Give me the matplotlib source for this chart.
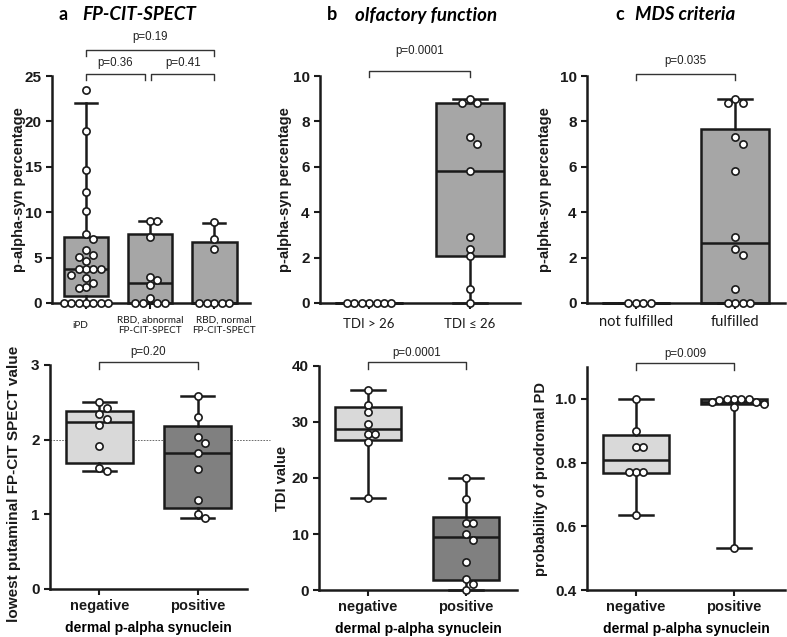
import numpy as np
import matplotlib
matplotlib.use("Agg")
import matplotlib.pyplot as plt
from matplotlib.transforms import blended_transform_factory

plt.rcParams['font.family'] = ['Liberation Sans', 'DejaVu Sans']

W, H = 787, 637
fig = plt.figure(figsize=(W / 100, H / 100), dpi=100)

# ---- data ----
# a, top: p-alpha-syn by FP-CIT-SPECT group
a_cats = ['iPD', 'RBD, abnormal\nFP-CIT-SPECT', 'RBD, normal\nFP-CIT-SPECT']
a_ipd = [23.5, 18.9, 14.6, 12.2, 10.1, 7.6, 7.0, 5.8, 5.3, 5.1, 4.6, 3.7, 3.7, 3.7, 3.7,
         3.1, 2.8, 2.2, 1.8, 1.6, 0, 0, 0, 0, 0, 0, 0]
a_rbd_abn = [9.0, 9.0, 7.3, 2.9, 2.5, 2.0, 0.5, 0, 0, 0, 0]
a_rbd_norm = [8.9, 7.0, 5.9, 0, 0, 0, 0, 0]
a_q1 = [0.8, 0, 0]
a_med = [3.7, 2.2, 0]
a_q3 = [7.3, 7.6, 6.7]
a_lo = [0, 0, 0]
a_hi = [22.0, 9.0, 8.8]

# b, top: p-alpha-syn by olfactory function
b_cats = ['TDI > 26', 'TDI ≤ 26']
b_normal = [0, 0, 0, 0, 0, 0, 0]
b_hypo = [9.0, 8.8, 8.8, 7.3, 7.0, 5.8, 2.9, 2.4, 2.05, 0.6, 0]
b_q1 = [0, 2.05]
b_med = [0, 5.8]
b_q3 = [0, 8.8]
b_lo = [0, 0]
b_hi = [0, 9.0]

# c, top: p-alpha-syn by MDS criteria
c_cats = ['not fulfilled', 'fulfilled']
c_not = [0, 0, 0, 0]
c_ful = [9.0, 8.8, 8.8, 7.3, 7.0, 5.8, 2.9, 2.4, 2.1, 0.6, 0, 0, 0, 0]
c_q1 = [0, 0]
c_med = [0, 2.65]
c_q3 = [0, 7.65]
c_lo = [0, 0]
c_hi = [0, 9.0]

# bottom row: by dermal p-alpha synuclein
syn_cats = ['negative', 'positive']
d_neg = [2.5, 2.42, 2.34, 2.28, 2.2, 1.91, 1.62, 1.58]
d_pos = [2.59, 2.31, 2.04, 1.96, 1.82, 1.61, 1.19, 1.0, 0.95]
d_q1 = [1.69, 1.09]
d_med = [2.24, 1.82]
d_q3 = [2.39, 2.18]
d_lo = [1.58, 0.95]
d_hi = [2.5, 2.59]

e_neg = [35.8, 33.0, 31.7, 29.7, 27.8, 27.8, 26.5, 16.5]
e_pos = [20, 16.3, 12, 12, 10, 8.9, 5, 2, 1.1, 0]
e_q1 = [26.8, 1.7]
e_med = [28.8, 9.5]
e_q3 = [32.7, 13.1]
e_lo = [16.5, 0]
e_hi = [35.8, 20]

f_neg = [1.0, 0.9, 0.85, 0.85, 0.77, 0.77, 0.77, 0.635]
f_pos = [1.0, 1.0, 1.0, 1.0, 0.995, 0.99, 0.99, 0.985, 0.975, 0.533]
f_q1 = [0.767, 0.984]
f_med = [0.807, 0.99]
f_q3 = [0.887, 1.0]
f_lo = [0.635, 0.533]
f_hi = [1.0, 1.0]

INK = '#1a1a1a'
MID = '#a6a6a6'
LIGHT = '#d9d9d9'
DARK = '#808080'

cal = ['Lato', 'DejaVu Sans']


def px_axes(x0, x1, y0, y1):
    return fig.add_axes([x0 / W, 1 - y1 / H, (x1 - x0) / W, (y1 - y0) / H])


def style(ax, xlim, ylim, yticks, ylabel, fmt='%g', ylfs=10.5):
    ax.set_xlim(xlim)
    ax.set_ylim(ylim)
    ax.set_yticks(yticks)
    ax.set_yticklabels([fmt % t for t in yticks], fontweight='bold', fontsize=11)
    for s in ['top', 'right']:
        ax.spines[s].set_visible(False)
    for s in ['left', 'bottom']:
        ax.spines[s].set_linewidth(1.8)
        ax.spines[s].set_color(INK)
    ax.tick_params(width=1.5, length=4, color=INK, labelcolor=INK)
    ax.set_ylabel(ylabel, fontsize=ylfs, fontweight='bold', color=INK)


def boxes(ax, q1, med, q3, lo, hi, colors, width=0.68):
    stats = [dict(q1=a, med=m, q3=b, whislo=l, whishi=h, fliers=[])
             for a, m, b, l, h in zip(q1, med, q3, lo, hi)]
    n = len(stats)
    art = ax.bxp(stats, positions=range(n), widths=width, capwidths=width * 0.5,
                 patch_artist=True, showfliers=False,
                 boxprops=dict(linewidth=1.8, edgecolor=INK),
                 medianprops=dict(linewidth=1.8, color=INK),
                 whiskerprops=dict(linewidth=1.8, color=INK),
                 capprops=dict(linewidth=1.8, color=INK), manage_ticks=False)
    for p, c in zip(art['boxes'], colors):
        p.set_facecolor(c)
    for k in ['boxes', 'medians', 'whiskers', 'caps']:
        for a in art[k]:
            a.set_clip_on(False)


def swarm(ax, x0, vals, d=7.4):
    tr = ax.transData
    pts = tr.transform(np.column_stack([np.full(len(vals), float(x0)), vals]))
    placed = []
    for px, py in pts:
        k = 0
        while True:
            off = ((k + 1) // 2) * d * (1 if k % 2 else -1)
            if all(np.hypot(px + off - qx, py - qy) >= d * 0.95 for qx, qy in placed):
                break
            k += 1
        placed.append((px + off, py))
    xy = tr.inverted().transform(np.array(placed))
    ax.plot(xy[:, 0], vals, 'o', mfc='white', mec=INK, ms=5.2, mew=1.2,
            zorder=6, clip_on=False)


def bracket(ax, x0, x1, y, h, text, ty):
    ax.plot([x0, x0, x1, x1], [y - h, y, y, y - h], color='#333333', lw=1.0, clip_on=False)
    ax.text((x0 + x1) / 2, ty, text, ha='center', va='center', fontsize=8.3,
            color='#222222', clip_on=False)


def xcats(ax, labels, fs, pad, family=None, weight='normal'):
    ax.set_xticks(range(len(labels)))
    ax.set_xticklabels(labels, fontsize=fs, fontweight=weight,
                       family=family if family else plt.rcParams['font.family'])
    ax.tick_params(axis='x', pad=pad)


# ---- top row ----
ax = px_axes(52, 250, 76, 303)
style(ax, (-0.53, 2.56), (0, 25), [0, 5, 10, 15, 20, 25], 'p-alpha-syn percentage')
boxes(ax, a_q1, a_med, a_q3, a_lo, a_hi, [MID] * 3, width=0.7)
for i, v in enumerate([a_ipd, a_rbd_abn, a_rbd_norm]):
    swarm(ax, i, v)
ax.set_xticks(range(len(a_cats)))
ax.set_xticklabels([])
tb = blended_transform_factory(ax.transData, ax.transAxes)
for x, lab in zip([-0.09, 1.0, 2.16], a_cats):
    ax.text(x, -0.098, lab, transform=tb, ha='center', va='center', fontsize=7.2,
            family=cal, color=INK, linespacing=1.25)
bracket(ax, 0, 0.92, 25.2, 0.65, 'p=0.36', 26.4)
bracket(ax, 1.02, 2.0, 25.2, 0.65, 'p=0.41', 26.4)
bracket(ax, 0, 2.0, 27.9, 0.65, 'p=0.19', 29.3)
ax.yaxis.set_label_coords(-0.131, 0.5)

ax = px_axes(320, 520, 76, 303)
style(ax, (-0.49, 1.5), (0, 10), [0, 2, 4, 6, 8, 10], 'p-alpha-syn percentage')
boxes(ax, b_q1, b_med, b_q3, b_lo, b_hi, [MID] * 2)
swarm(ax, 0, b_normal)
swarm(ax, 1, b_hypo)
xcats(ax, b_cats, 9.5, 7, family=cal)
bracket(ax, 0, 1, 10.23, 0.26, 'p=0.0001', 11.1)
ax.yaxis.set_label_coords(-0.14, 0.5)

ax = px_axes(587, 785, 76, 303)
style(ax, (-0.49, 1.5), (0, 10), [0, 2, 4, 6, 8, 10], 'p-alpha-syn percentage')
boxes(ax, c_q1, c_med, c_q3, c_lo, c_hi, [MID] * 2)
swarm(ax, 0, c_not)
swarm(ax, 1, c_ful)
xcats(ax, c_cats, 10.5, 5, family=cal)
bracket(ax, 0, 1, 10.09, 0.26, 'p=0.035', 10.66)
ax.yaxis.set_label_coords(-0.177, 0.5)

# ---- bottom row ----
ax = px_axes(50, 247, 365, 589)
style(ax, (-0.5, 1.5), (0, 3), [0, 1, 2, 3], 'lowest putaminal FP-CIT SPECT value', ylfs=11)
ax.plot([-0.5, 1.73], [2, 2], ls=(0, (2, 1.5)), lw=0.6, color='#555555', clip_on=False, zorder=1)
boxes(ax, d_q1, d_med, d_q3, d_lo, d_hi, [LIGHT, DARK])
swarm(ax, 0, d_neg)
swarm(ax, 1, d_pos)
xcats(ax, syn_cats, 10.5, 3, weight='bold')
ax.set_xlabel('dermal p-alpha synuclein', fontsize=10, fontweight='bold', labelpad=6)
bracket(ax, 0, 1, 3.04, 0.09, 'p=0.20', 3.17)
ax.yaxis.set_label_coords(-0.147, 0.47)

ax = px_axes(319, 517, 366, 590)
style(ax, (-0.5, 1.52), (0, 40), [0, 10, 20, 30, 40], 'TDI value')
boxes(ax, e_q1, e_med, e_q3, e_lo, e_hi, [LIGHT, DARK])
swarm(ax, 0, e_neg)
swarm(ax, 1, e_pos)
xcats(ax, syn_cats, 10.5, 3, weight='bold')
ax.set_xlabel('dermal p-alpha synuclein', fontsize=10, fontweight='bold', labelpad=6)
bracket(ax, 0, 1, 40.7, 1.2, 'p=0.0001', 42.3)
ax.yaxis.set_label_coords(-0.152, 0.5)

ax = px_axes(587, 785, 367, 590)
style(ax, (-0.5, 1.52), (0.4, 1.1), [0.4, 0.6, 0.8, 1.0], 'probability of prodromal PD', fmt='%.1f')
boxes(ax, f_q1, f_med, f_q3, f_lo, f_hi, [LIGHT, DARK])
swarm(ax, 0, f_neg)
swarm(ax, 1, f_pos)
xcats(ax, syn_cats, 10.5, 3, weight='bold')
ax.set_xlabel('dermal p-alpha synuclein', fontsize=10, fontweight='bold', labelpad=6)
bracket(ax, 0, 1, 1.1125, 0.022, 'p=0.009', 1.14)
ax.yaxis.set_label_coords(-0.197, 0.5)

# ---- panel titles ----
for lx, tx, letter, title in [(63, 82, 'a', 'FP-CIT-SPECT'),
                              (332, 355, 'b', 'olfactory function'),
                              (620, 635, 'c', 'MDS criteria')]:
    fig.text(lx / W, 1 - 15 / H, letter, ha='center', va='center', fontsize=13,
             fontweight='bold', family=cal)
    fig.text(tx / W, 1 - 15 / H, title, ha='left', va='center', fontsize=13.5,
             fontweight='bold', style='italic', family=cal)

fig.savefig('out.png', dpi=100)
